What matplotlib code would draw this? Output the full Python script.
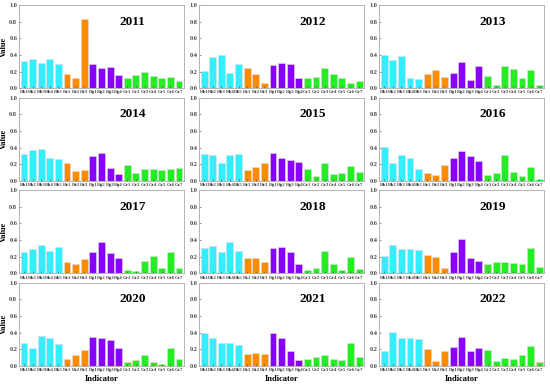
import matplotlib
matplotlib.use('Agg')
import matplotlib.pyplot as plt
from matplotlib.ticker import MultipleLocator

plt.rcParams['font.family'] = ['Liberation Serif', 'DejaVu Serif']
plt.rcParams['font.weight'] = 'bold'

# 指标名称
labels = ['Hb1', 'Hb2', 'Hb3', 'Hb4', 'Hb5', 'He1', 'He2', 'He3',
          'Hg1', 'Hg2', 'Hg3', 'Hg4', 'Gr1', 'Gr2', 'Gr3', 'Gr4', 'Gr5', 'Gr6', 'Gr7']
years = [2011, 2012, 2013, 2014, 2015, 2016, 2017, 2018, 2019, 2020, 2021, 2022]

v2011 = [0.33, 0.35, 0.30, 0.35, 0.29, 0.17, 0.12, 0.83, 0.29, 0.24, 0.26, 0.16, 0.13, 0.16, 0.20, 0.15, 0.12, 0.14, 0.09]
v2012 = [0.21, 0.38, 0.40, 0.18, 0.29, 0.24, 0.17, 0.06, 0.28, 0.30, 0.29, 0.13, 0.13, 0.14, 0.24, 0.17, 0.12, 0.06, 0.09]
v2013 = [0.40, 0.34, 0.39, 0.13, 0.11, 0.17, 0.22, 0.14, 0.18, 0.32, 0.10, 0.27, 0.15, 0.04, 0.27, 0.23, 0.13, 0.22, 0.04]
v2014 = [0.32, 0.37, 0.38, 0.27, 0.26, 0.22, 0.12, 0.13, 0.30, 0.34, 0.16, 0.08, 0.19, 0.10, 0.14, 0.14, 0.13, 0.14, 0.15]
v2015 = [0.32, 0.31, 0.22, 0.31, 0.32, 0.13, 0.17, 0.21, 0.33, 0.28, 0.25, 0.23, 0.14, 0.06, 0.22, 0.08, 0.09, 0.18, 0.11]
v2016 = [0.41, 0.22, 0.31, 0.28, 0.14, 0.09, 0.07, 0.19, 0.28, 0.36, 0.30, 0.24, 0.07, 0.09, 0.31, 0.11, 0.06, 0.17, 0.02]
v2017 = [0.26, 0.29, 0.34, 0.27, 0.32, 0.14, 0.11, 0.17, 0.26, 0.38, 0.25, 0.18, 0.04, 0.03, 0.15, 0.21, 0.07, 0.26, 0.06]
v2018 = [0.30, 0.33, 0.26, 0.38, 0.27, 0.19, 0.19, 0.14, 0.30, 0.32, 0.26, 0.11, 0.04, 0.06, 0.27, 0.11, 0.04, 0.20, 0.05]
v2019 = [0.21, 0.34, 0.29, 0.29, 0.28, 0.22, 0.20, 0.07, 0.26, 0.41, 0.19, 0.15, 0.11, 0.14, 0.14, 0.13, 0.11, 0.30, 0.08]
v2020 = [0.28, 0.22, 0.36, 0.34, 0.26, 0.08, 0.13, 0.19, 0.35, 0.33, 0.31, 0.22, 0.05, 0.07, 0.13, 0.05, 0.02, 0.22, 0.08]
v2021 = [0.39, 0.33, 0.27, 0.28, 0.25, 0.14, 0.16, 0.14, 0.39, 0.33, 0.18, 0.07, 0.08, 0.11, 0.13, 0.08, 0.07, 0.28, 0.11]
v2022 = [0.18, 0.41, 0.34, 0.33, 0.32, 0.20, 0.06, 0.18, 0.23, 0.35, 0.18, 0.22, 0.19, 0.06, 0.09, 0.08, 0.13, 0.24, 0.05]
values = [v2011, v2012, v2013, v2014, v2015, v2016, v2017, v2018, v2019, v2020, v2021, v2022]

# 每组指标的颜色
colors = ['#33eeff'] * 5 + ['#ff8c00'] * 3 + ['#8a00ff'] * 4 + ['#22ee22'] * 7

fig, axes = plt.subplots(4, 3, figsize=(5.5, 3.84), dpi=100)
fig.subplots_adjust(left=0.035, right=0.989, top=0.987, bottom=0.047, wspace=0.095, hspace=0.11)

x = range(len(labels))
for i, ax in enumerate(axes.flat):
    ax.bar(x, values[i], width=0.8, color=colors, edgecolor='#dddddd', linewidth=0.4)
    ax.set_xlim(-0.55, len(labels) - 0.45)
    ax.set_ylim(0, 1.0)
    ax.set_xticks(list(x))
    ax.set_xticklabels(labels, fontsize=3.5, fontweight='bold')
    ax.yaxis.set_minor_locator(MultipleLocator(0.1))
    ax.set_yticks([0, 0.2, 0.4, 0.6, 0.8, 1.0])
    ax.set_yticklabels(['0.0', '0.2', '0.4', '0.6', '0.8', '1.0'], fontsize=4.5, fontweight='bold')
    ax.tick_params(direction='in', length=1.5, width=0.4, pad=1.5, colors='#444444')
    ax.tick_params(which='minor', direction='in', length=1, width=0.3)
    for s in ax.spines.values():
        s.set_color('#aaaaaa')
        s.set_linewidth(0.6)
    ax.text(0.69, 0.8, str(years[i]), transform=ax.transAxes, fontsize=9.5,
            fontweight='bold', ha='center', va='center')
    if i % 3 == 0:
        ax.set_ylabel('Value', fontsize=6, fontweight='bold', labelpad=1)
    if i >= 9:
        ax.set_xlabel('Indicator', fontsize=6, fontweight='bold', labelpad=2)

plt.savefig('out.png', dpi=100)
